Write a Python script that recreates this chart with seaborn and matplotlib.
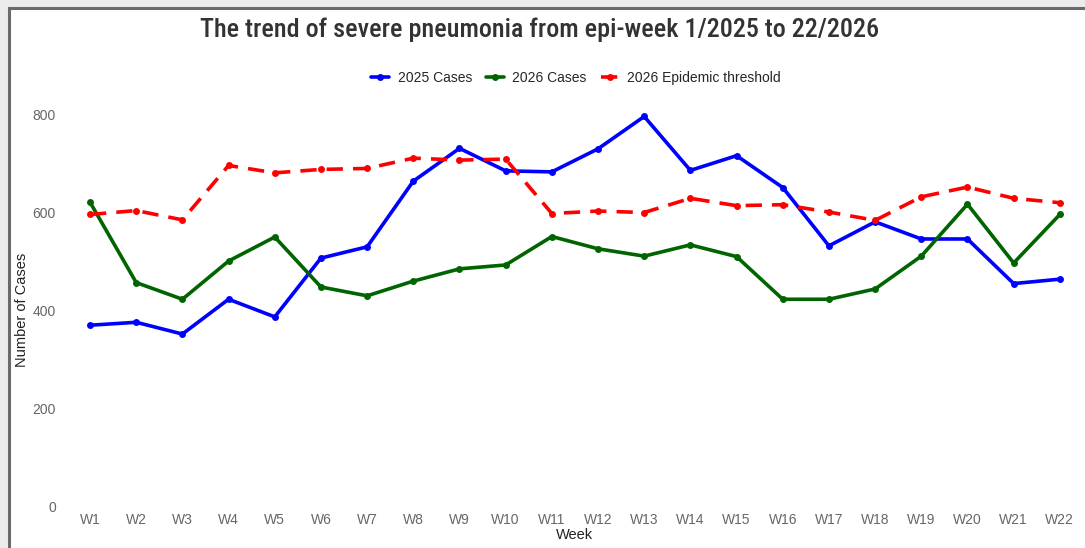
import matplotlib
matplotlib.use('Agg')
import matplotlib.pyplot as plt
import seaborn as sns
from matplotlib.patches import Rectangle

# ── Datos ──────────────────────────────────────────────────────
weeks = [f'W{i}' for i in range(1, 23)]
cases_2025 = [369, 375, 351, 422, 386, 506, 529, 663, 730, 684, 682,
              729, 795, 685, 715, 650, 531, 580, 545, 545, 454, 463]
cases_2026 = [620, 456, 422, 500, 549, 447, 429, 459, 484, 492, 550,
              525, 510, 533, 509, 422, 422, 443, 510, 616, 496, 595]
threshold_2026 = [595, 603, 584, 695, 680, 687, 689, 710, 706, 708, 597,
                  602, 599, 628, 613, 615, 600, 583, 631, 651, 628, 619]
y_ticks = [0, 200, 400, 600, 800]

sns.set_theme(style='white')
plt.rcParams['font.family'] = ['Liberation Sans', 'DejaVu Sans']

fig = plt.figure(figsize=(10.85, 5.48), dpi=100)
fig.patch.set_facecolor('#ececec')
# panel blanco con borde (captura de pantalla)
panel = Rectangle((9 / 1085, -0.01), 1.0, 1 - 8 / 548 + 0.01,
                  transform=fig.transFigure, facecolor='white',
                  edgecolor='#6a6a6a', linewidth=2.2, zorder=-5)
fig.patches.append(panel)

ax = fig.add_axes([0.0617, 0.0766, 0.9364, 0.760])
ax.set_facecolor('none')

sns.lineplot(x=weeks, y=cases_2025, ax=ax, color='#0000ff', lw=2.6,
             marker='o', markersize=5, markeredgewidth=0, label='2025 Cases', sort=False)
sns.lineplot(x=weeks, y=cases_2026, ax=ax, color='#006400', lw=2.6,
             marker='o', markersize=5, markeredgewidth=0, label='2026 Cases', sort=False)
sns.lineplot(x=weeks, y=threshold_2026, ax=ax, color='#ff0000', lw=2.6,
             marker='o', markersize=5, markeredgewidth=0, dashes=(4.5, 2.8),
             label='2026 Epidemic threshold', sort=False)

ax.set_xlim(-0.5, 21.5)
ax.set_ylim(0, 850)
ax.set_yticks(y_ticks)
ax.tick_params(axis='both', length=0, labelsize=10, colors='#666666')
ax.tick_params(axis='x', pad=5)
ax.tick_params(axis='y', pad=8)
for s in ax.spines.values():
    s.set_visible(False)

ax.set_xlabel('Week', fontsize=10.5, color='#222222', labelpad=1)
ax.set_ylabel('Number of Cases', fontsize=10.5, color='#222222')
ax.yaxis.set_label_coords(-0.037, 0.47)

ax.get_legend().remove()
handles, labels = ax.get_legend_handles_labels()
fig.legend(handles, labels, loc='center', bbox_to_anchor=(576 / 1085, 1 - 78 / 548),
           ncol=3, frameon=False, fontsize=10, handlelength=1.3,
           columnspacing=1.0, handletextpad=0.6)

fig.text(540 / 1085, 1 - 30 / 548,
         'The trend of severe pneumonia from epi-week 1/2025 to 22/2026',
         ha='center', va='center', fontsize=18.8, fontweight='medium',
         color='#333333', family=['Roboto Condensed', 'Liberation Sans Narrow', 'DejaVu Sans'])

fig.savefig('out.png', dpi=100, facecolor=fig.get_facecolor())
